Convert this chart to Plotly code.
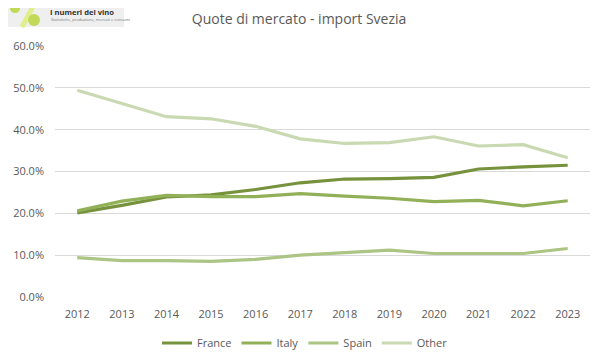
import plotly.graph_objects as go

years = [str(y) for y in range(2012, 2024)]
france = [20.1, 21.9, 23.9, 24.4, 25.7, 27.3, 28.2, 28.3, 28.6, 30.6, 31.1, 31.5]
italy = [20.6, 22.9, 24.3, 24.0, 24.0, 24.7, 24.1, 23.6, 22.8, 23.1, 21.8, 23.0]
spain = [9.4, 8.7, 8.7, 8.5, 9.0, 10.0, 10.6, 11.2, 10.4, 10.4, 10.4, 11.6]
other = [49.4, 46.2, 43.1, 42.6, 40.8, 37.8, 36.7, 36.9, 38.3, 36.1, 36.4, 33.3]

series = [
    ("France", france, "rgb(118,146,60)"),
    ("Italy", italy, "rgb(145,176,88)"),
    ("Spain", spain, "rgb(172,197,132)"),
    ("Other", other, "rgb(201,217,178)"),
]

fig = go.Figure()
for name, vals, col in series:
    fig.add_trace(go.Scatter(
        x=years, y=[v / 100 for v in vals], name=name, mode="lines",
        line=dict(color=col, width=3.2),
    ))

font = "Open Sans, Liberation Sans, sans-serif"
W, H = 594, 355
L, R, T, B = 47, 12, 38, 66
PW, PH = W - L - R, H - T - B

fig.update_layout(
    width=W, height=H,
    paper_bgcolor="white", plot_bgcolor="white",
    margin=dict(l=L, r=R, t=T, b=B, autoexpand=False),
    title=dict(text="Quote di mercato - import Svezia", xref="container", x=0.49,
               xanchor="center", yref="container", y=1 - 11 / H, yanchor="middle",
               font=dict(family=font, size=14, color="#595959")),
    font=dict(family=font, size=11, color="#595959"),
    showlegend=True,
    legend=dict(orientation="h", xref="container", x=0.5, xanchor="center",
                y=-46 / PH, yanchor="middle",
                font=dict(size=11, color="#595959"), itemwidth=30,
                tracegroupgap=0),
    xaxis=dict(type="category", showgrid=False, zeroline=False, showline=False,
               ticks="", tickfont=dict(size=11, color="#595959"),
               ticklabelstandoff=9,
               range=[-0.5, 11.5], automargin=False),
    yaxis=dict(range=[0, 0.6], dtick=0.1, tickformat=".1%", showgrid=True,
               gridcolor="#d9d9d9", gridwidth=1, zeroline=False, showline=False,
               ticks="", ticklabelstandoff=10, automargin=False,
               tickfont=dict(size=11, color="#595959")),
)

# logo approximation (positions in figure pixels)
def px(x):
    return (x - L) / PW

def py(y):
    return (H - B - y) / PH

fig.add_shape(type="rect", xref="paper", yref="paper",
              x0=px(-8), x1=px(116), y0=py(19), y1=py(-8),
              fillcolor="#efefef", line_width=0, layer="below")
fig.add_shape(type="line", xref="paper", yref="paper",
              x0=px(14), y0=py(19), x1=px(28), y1=py(-7),
              line=dict(color="#e0ef8c", width=5))
fig.add_shape(type="circle", xref="paper", yref="paper",
              x0=px(2), x1=px(12), y0=py(5), y1=py(-4),
              fillcolor="#c0d957", line_width=0)
fig.add_shape(type="circle", xref="paper", yref="paper",
              x0=px(20), x1=px(32), y0=py(18), y1=py(6),
              fillcolor="#c0d957", line_width=0)
fig.add_annotation(text="<b>I numeri del vino</b>", xref="paper", yref="paper",
                   x=px(40), y=py(4), xanchor="left", yanchor="middle",
                   showarrow=False, font=dict(family=font, size=7.6, color="#333333"))
fig.add_annotation(text="Statistiche, produzione, mercati e consumi", xref="paper",
                   yref="paper", x=px(41), y=py(11), xanchor="left", yanchor="middle",
                   showarrow=False, font=dict(family=font, size=4, color="#777777"))

fig.write_html("out.html")
